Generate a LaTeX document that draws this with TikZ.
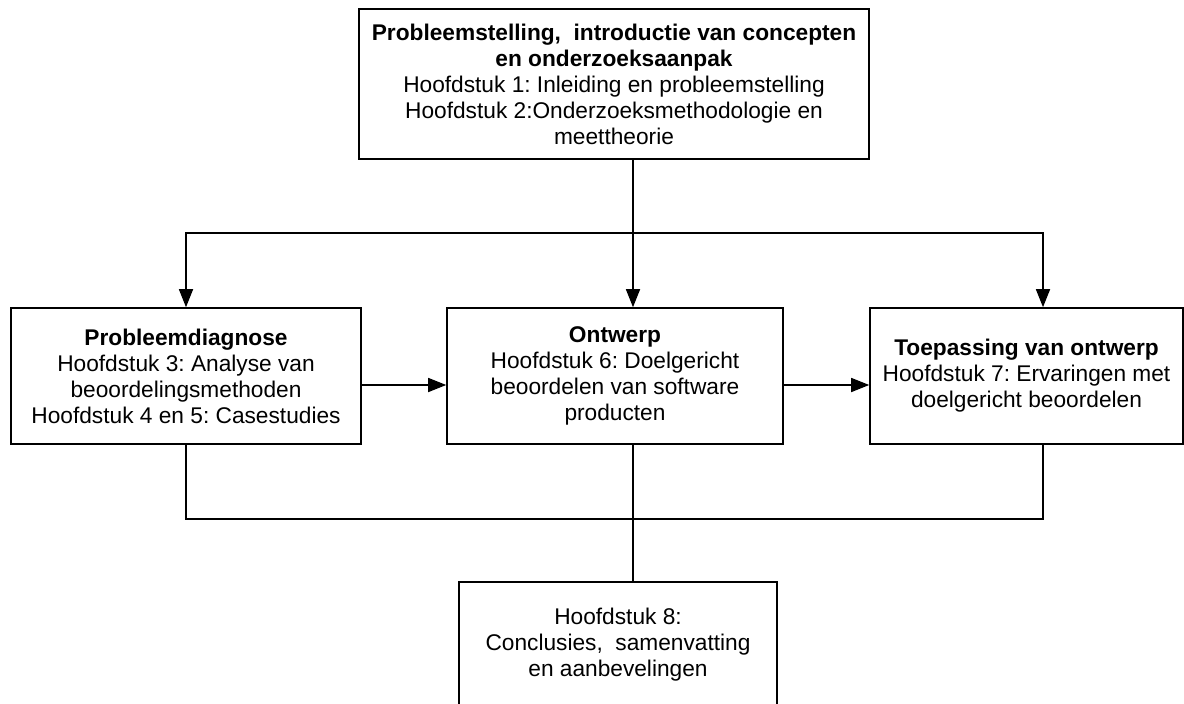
\documentclass[tikz,border=0pt]{standalone}
\usepackage{fontspec}
\setmainfont{Liberation Sans}
\usetikzlibrary{arrows.meta}
\frenchspacing
\tikzset{
  box/.style={draw=black, line width=1.6pt, align=center, inner sep=0pt,
    font=\fontsize{22.7}{26}\selectfont},
  conn/.style={line width=1.6pt},
  arr/.style={conn, -{Triangle[length=18pt,width=14pt]}}
}
\begin{document}
\begin{tikzpicture}[x=1pt,y=-1pt]
\useasboundingbox (0,0) rectangle (1184,704);
\clip (0,0) rectangle (1184,704);
\node[box, minimum width=510pt, minimum height=150pt] (top) at (614,84)
  {\textbf{Probleemstelling,\ \ introductie van concepten}\\
   \textbf{en onderzoeksaanpak}\\
   Hoofdstuk 1: Inleiding en probleemstelling\\
   Hoofdstuk 2:Onderzoeksmethodologie en\\
   meettheorie};
\node[box, minimum width=350pt, minimum height=136pt] (left) at (186,376)
  {\textbf{Probleemdiagnose}\\
   Hoofdstuk 3: Analyse van\\
   beoordelingsmethoden\\
   Hoofdstuk 4 en 5: Casestudies};
\node[box, minimum width=336pt, minimum height=136pt] (mid) at (615,376)
  {\textbf{Ontwerp}\\
   Hoofdstuk 6: Doelgericht\\
   beoordelen van software\\
   producten};
\node[box, minimum width=313pt, minimum height=136pt] (right) at (1026.5,376)
  {\textbf{Toepassing van ontwerp}\\
   Hoofdstuk 7: Ervaringen met\\
   doelgericht beoordelen};
\node[box, minimum width=318pt, minimum height=126pt] (bot) at (618,645)
  {Hoofdstuk 8:\\
   Conclusies,\ \ samenvatting\\
   en aanbevelingen};
\coordinate (J) at (633,233);
\coordinate (rx) at (1043,233);
\coordinate (hy) at (0,385);
\coordinate (B) at (633,519);
\draw[conn] (top.south -| J) -- (J);
\draw[arr] (J) -| (left.north);
\draw[arr] (J) -- (mid.north -| J);
\draw[arr] (J) -| (right.north -| rx);
\draw[arr] (left.east |- hy) -- (mid.west |- hy);
\draw[arr] (mid.east |- hy) -- (right.west |- hy);
\draw[conn] (left.south) |- (B);
\draw[conn] (right.south -| rx) |- (B);
\draw[conn] (mid.south -| J) -- (bot.north -| J);
\end{tikzpicture}
\end{document}
